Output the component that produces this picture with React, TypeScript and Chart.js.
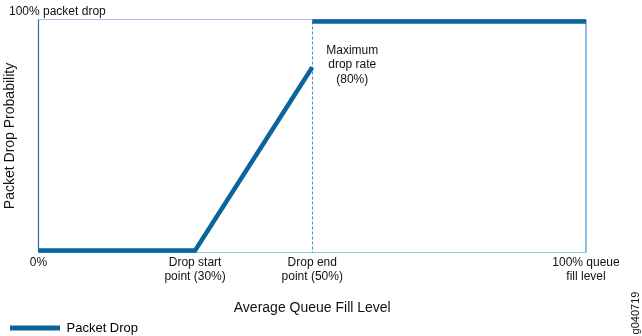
import React, { useEffect, useRef } from "react";
import { Chart, registerables } from "chart.js";

Chart.register(...registerables);

// Data (percent of queue fill level -> drop probability %)
const rampX = [0, 28.6, 50];
const rampY = [0, 0, 80];
const fullX = [50, 100];
const fullY = [100, 100];
const xTickValues = [0, 28.6, 50, 100];
const xTickLabels: string[][] = [
  ["0%"],
  ["Drop start", "point (30%)"],
  ["Drop end", "point (50%)"],
  ["100% queue", "fill level"],
];
const seriesName = "Packet Drop";
const topLabel = "100% packet drop";
const maxNote = ["Maximum", "drop rate", "(80%)"];
const figId = "g040719";
const dropEndX = 50;

const FONT = "'Liberation Sans', Arial, Helvetica, sans-serif";
const LINE = "#0b659d";

const decor = {
  id: "decor",
  beforeDatasetsDraw(chart: any) {
    const { ctx, chartArea: a, scales } = chart;
    const x = scales.x;
    const y = scales.y;
    ctx.save();
    // plot frame
    ctx.lineWidth = 1.2;
    ctx.strokeStyle = "#b3b8ee";
    ctx.beginPath();
    ctx.moveTo(a.left, a.top - 2);
    ctx.lineTo(a.right, a.top - 2);
    ctx.stroke();
    ctx.strokeStyle = "#8ecbd3";
    ctx.beginPath();
    ctx.moveTo(a.left, a.bottom + 2);
    ctx.lineTo(a.right, a.bottom + 2);
    ctx.stroke();
    ctx.strokeStyle = "#1a70ae";
    ctx.beginPath();
    ctx.moveTo(a.left, a.top - 2);
    ctx.lineTo(a.left, a.bottom + 2);
    ctx.stroke();
    ctx.strokeStyle = "#3d94d4";
    ctx.beginPath();
    ctx.moveTo(a.right, a.top - 2);
    ctx.lineTo(a.right, a.bottom + 2);
    ctx.stroke();
    // dashed drop end line
    const dx = Math.round(x.getPixelForValue(dropEndX)) + 0.5;
    ctx.strokeStyle = "#2f95d8";
    ctx.lineWidth = 1;
    ctx.setLineDash([3, 2]);
    ctx.beginPath();
    ctx.moveTo(dx, y.getPixelForValue(100));
    ctx.lineTo(dx, y.getPixelForValue(0) + 2);
    ctx.stroke();
    ctx.setLineDash([]);
    ctx.restore();
  },
  afterDraw(chart: any) {
    const { ctx, scales } = chart;
    const x = scales.x;
    const y = scales.y;
    ctx.save();
    ctx.fillStyle = "#111";
    ctx.font = `12px ${FONT}`;
    ctx.textAlign = "left";
    ctx.textBaseline = "alphabetic";
    ctx.fillText(topLabel, 9, y.getPixelForValue(100) - 7);
    ctx.textAlign = "center";
    const cx = x.getPixelForValue(dropEndX) + 40;
    const by = y.getPixelForValue(86);
    maxNote.forEach((t, i) => ctx.fillText(t, cx, by + i * 14.5));
    ctx.translate(636, 313);
    ctx.rotate(-Math.PI / 2);
    ctx.font = `11px ${FONT}`;
    ctx.textBaseline = "middle";
    ctx.fillText(figId, 0, 0);
    ctx.restore();
  },
};

export default function App() {
  const ref = useRef<HTMLCanvasElement | null>(null);
  useEffect(() => {
    if (!ref.current) return;
    const chart = new Chart(ref.current, {
      type: "line",
      data: {
        datasets: [
          {
            label: seriesName,
            data: rampX.map((v, i) => ({ x: v, y: rampY[i] })),
            borderColor: LINE,
            backgroundColor: LINE,
            borderWidth: 4.5,
            pointRadius: 0,
            tension: 0,
            clip: false,
            borderCapStyle: "butt",
            borderJoinStyle: "miter",
          },
          {
            label: seriesName + " (max)",
            data: fullX.map((v, i) => ({ x: v, y: fullY[i] })),
            borderColor: LINE,
            backgroundColor: LINE,
            borderWidth: 4.5,
            pointRadius: 0,
            tension: 0,
            clip: false,
            borderCapStyle: "butt",
          },
        ],
      },
      options: {
        responsive: false,
        animation: false,
        layout: { padding: { left: 0, right: 56, top: 21.5, bottom: -8.5 } },
        scales: {
          x: {
            type: "linear",
            min: 0,
            max: 100,
            afterBuildTicks: (axis: any) => {
              axis.ticks = xTickValues.map((v) => ({ value: v }));
            },
            grid: { display: false, drawTicks: false },
            border: { display: false },
            ticks: {
              autoSkip: false,
              maxRotation: 0,
              padding: 5.5,
              color: "#111",
              font: { family: FONT, size: 12, lineHeight: 14 / 12 },
              callback: (_v: any, i: number) => xTickLabels[i],
            },
            title: {
              display: true,
              text: "Average Queue Fill Level",
              color: "#111",
              font: { family: FONT, size: 14, lineHeight: 1.2 },
              padding: { top: 10.1, bottom: -4.9 },
            },
          },
          y: {
            type: "linear",
            min: 0,
            max: 100,
            grid: { display: false, drawTicks: false },
            border: { display: false },
            ticks: { display: false },
            title: {
              display: true,
              text: "Packet Drop Probability",
              color: "#111",
              font: { family: FONT, size: 14, lineHeight: 1.2 },
              padding: { top: 1.6, bottom: 20.1 },
            },
          },
        },
        plugins: {
          tooltip: { enabled: false },
          legend: {
            position: "bottom",
            align: "start",
            labels: {
              boxWidth: 50,
              boxHeight: 5,
              padding: 10,
              color: "#111",
              font: { family: FONT, size: 13 },
              generateLabels: () => [
                {
                  text: seriesName,
                  fillStyle: LINE,
                  strokeStyle: LINE,
                  lineWidth: 0,
                  datasetIndex: 0,
                  hidden: false,
                },
              ],
            },
          },
        },
      },
      plugins: [decor],
    } as any);
    return () => chart.destroy();
  }, []);
  return (
    <canvas
      ref={ref}
      width={642}
      height={336}
      style={{ position: "fixed", left: 0, top: 0, display: "block" }}
    />
  );
}
